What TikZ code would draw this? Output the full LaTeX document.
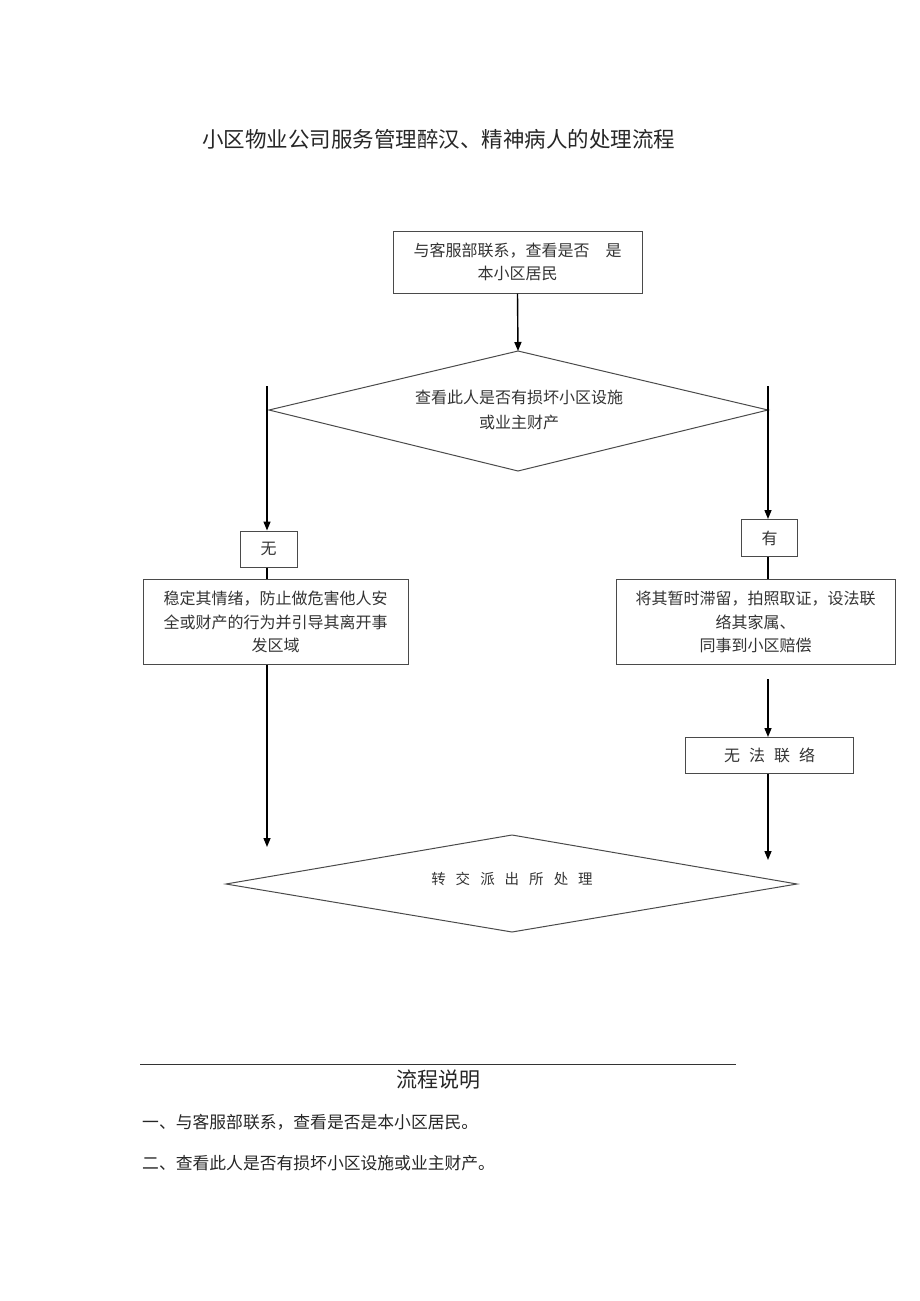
\documentclass[tikz,border=0pt]{standalone}
\usepackage{fontspec}
\setmainfont{Noto Sans CJK SC}
\usetikzlibrary{arrows.meta}
\definecolor{boxc}{HTML}{4A4A4A}
\definecolor{txt}{HTML}{333333}
\begin{document}
\begin{tikzpicture}[x=1pt,y=-1pt,
  box/.style={draw=boxc, line width=1pt, inner sep=0pt, align=center, text=txt,
              font=\fontsize{16}{23.5}\selectfont},
  dia/.style={draw=boxc, line width=1pt},
  dtext/.style={inner sep=0pt, align=center, text=txt, font=\fontsize{16}{25}\selectfont},
  arr/.style={line width=1.4pt, -{Triangle[length=9pt,width=7pt]}},
  ln/.style={line width=1.4pt},
  plain/.style={inner sep=0pt, text=black!85}]
\useasboundingbox (0,0) rectangle (920,1301);

% title
\node[plain, font=\fontsize{21.5}{24}\selectfont] (title) at (438.5,139) {小区物业公司服务管理醉汉、精神病人的处理流程};

% top box
\node[box, minimum width=249pt, minimum height=62pt] (b1) at (517.5,262)
  {与客服部联系，查看是否　是\\本小区居民};

% diamond 1
\coordinate (d1t) at (518,351);
\coordinate (d1r) at (768,410);
\coordinate (d1b) at (518,471);
\coordinate (d1l) at (269,410);
\draw[dia] (d1t) -- (d1r) -- (d1b) -- (d1l) -- cycle;
\node[dtext] (d1) at (519,410) {查看此人是否有损坏小区设施\\或业主财产};

\draw[arr] (b1.south) -- (d1t);

% left branch
\coordinate (l0) at (267,386);
\node[box, minimum width=57pt, minimum height=36pt] (wu) at (268.5,549) {无};
\node[box, minimum width=265pt, minimum height=85pt] (lb) at (275.5,622)
  {稳定其情绪，防止做危害他人安\\全或财产的行为并引导其离开事\\发区域};
\coordinate (l1) at (267,847);
\draw[arr] (l0) -- (l0 |- wu.north);
\draw[ln] (l0 |- wu.south) -- (l0 |- lb.north);
\draw[arr] (l0 |- lb.south) -- (l1);

% right branch
\coordinate (r0) at (768,386);
\node[box, minimum width=56pt, minimum height=37pt] (you) at (769.5,538) {有};
\node[box, minimum width=279pt, minimum height=85pt] (rb) at (755.5,622)
  {将其暂时滞留，拍照取证，设法联\\络其家属、\\同事到小区赔偿};
\coordinate (r1) at (768,679);
\node[box, minimum width=168pt, minimum height=36pt] (wf) at (769.5,755.5)
  {无\hspace{9pt}法\hspace{9pt}联\hspace{9pt}络};
\coordinate (r2) at (768,860);
\draw[arr] (r0) -- (r0 |- you.north);
\draw[ln] (r0 |- you.south) -- (r0 |- rb.north);
\draw[arr] (r1) -- (r1 |- wf.north);
\draw[arr] (r0 |- wf.south) -- (r2);

% diamond 2
\coordinate (d2t) at (512,835);
\coordinate (d2r) at (797,884);
\coordinate (d2b) at (512,932);
\coordinate (d2l) at (226,884);
\draw[dia] (d2t) -- (d2r) -- (d2b) -- (d2l) -- cycle;
\node[dtext, font=\fontsize{14.5}{20}\selectfont] (d2) at (512,879)
  {转\hspace{10pt}交\hspace{10pt}派\hspace{10pt}出\hspace{10pt}所\hspace{10pt}处\hspace{10pt}理};

% explanation
\coordinate (rl) at (140,1064);
\coordinate (rr) at (736,1064);
\draw[line width=1pt, black!80] (rl) -- (rr);
\node[plain, font=\fontsize{21}{24}\selectfont] (expl) at (438.5,1080) {流程说明};
\node[plain, anchor=west, font=\fontsize{16.8}{20}\selectfont] (s1) at (142,1122) {一、与客服部联系，查看是否是本小区居民。};
\node[plain, anchor=west, font=\fontsize{16.8}{20}\selectfont] (s2) at (142,1163) {二、查看此人是否有损坏小区设施或业主财产。};
\end{tikzpicture}
\end{document}
